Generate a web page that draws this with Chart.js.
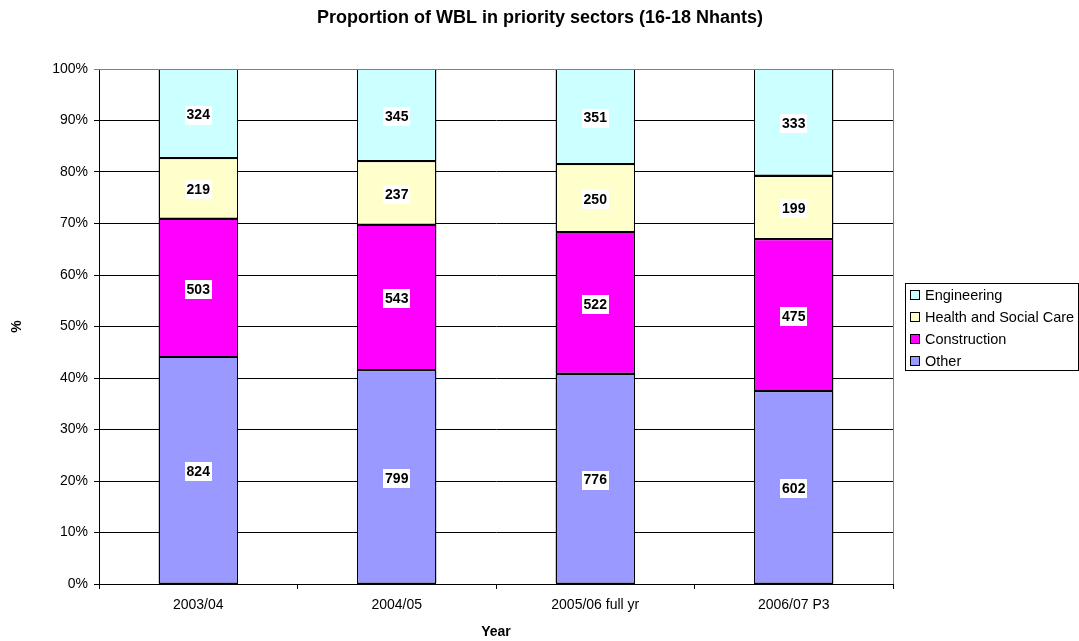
<!DOCTYPE html>
<html>
<head>
<meta charset="utf-8">
<style>
html,body{margin:0;padding:0;background:#fff;}
#wrap{width:1079px;height:641px;position:relative;}
</style>
<script src="https://cdn.jsdelivr.net/npm/chart.js@4/dist/chart.umd.min.js"></script>
</head>
<body>
<div id="wrap"><canvas id="c" width="1079" height="641"></canvas></div>
<script>
const categories = ['2003/04', '2004/05', '2005/06 full yr', '2006/07 P3'];
const other = [824, 799, 776, 602];
const construction = [503, 543, 522, 475];
const healthSocialCare = [219, 237, 250, 199];
const engineering = [324, 345, 351, 333];
const yTickLabels = ['0%','10%','20%','30%','40%','50%','60%','70%','80%','90%','100%'];
const chartTitle = 'Proportion of WBL in priority sectors (16-18 Nhants)';

const FONT = "'Liberation Sans', Arial, sans-serif";
const totals = categories.map((_, i) => other[i] + construction[i] + healthSocialCare[i] + engineering[i]);
const pct = arr => arr.map((v, i) => v / totals[i]);

const seriesDefs = [
  {label: 'Other', raw: other, color: '#9999FF'},
  {label: 'Construction', raw: construction, color: '#FF00FF'},
  {label: 'Health and Social Care', raw: healthSocialCare, color: '#FFFFCC'},
  {label: 'Engineering', raw: engineering, color: '#CCFFFF'}
];

const datasets = seriesDefs.map(s => ({
  label: s.label,
  data: pct(s.raw),
  raw: s.raw,
  backgroundColor: s.color,
  borderColor: '#000000',
  borderWidth: 1,
  borderSkipped: false,
  categoryPercentage: 1.0,
  barPercentage: 0.4
}));

const labelPlugin = {
  id: 'labels',
  afterDatasetsDraw(chart) {
    const ctx = chart.ctx;
    ctx.save();
    // crisp segment outlines
    ctx.strokeStyle = '#000';
    ctx.lineWidth = 1;
    chart.data.datasets.forEach((ds, di) => {
      chart.getDatasetMeta(di).data.forEach(bar => {
        const x0 = Math.round(bar.x - bar.width / 2) + 0.5;
        const x1 = Math.round(bar.x + bar.width / 2) - 0.5;
        const y0 = Math.round(bar.y) + 0.5;
        const y1 = Math.round(bar.base) - 0.5;
        ctx.strokeRect(x0, y0, x1 - x0, y1 - y0);
      });
    });
    ctx.font = "bold 14px " + FONT;
    ctx.textAlign = 'center';
    ctx.textBaseline = 'middle';
    chart.data.datasets.forEach((ds, di) => {
      const meta = chart.getDatasetMeta(di);
      meta.data.forEach((bar, i) => {
        const txt = String(ds.raw[i]);
        const cx = bar.x;
        const cy = (bar.y + bar.base) / 2 + 1;
        const w = ctx.measureText(txt).width + 4;
        ctx.fillStyle = '#ffffff';
        ctx.fillRect(Math.round(cx - w / 2), Math.round(cy - 9), Math.round(w), 19);
        ctx.fillStyle = '#000000';
        ctx.fillText(txt, cx, cy + 1);
      });
    });
    ctx.restore();
  }
};

const framePlugin = {
  id: 'frame',
  afterDraw(chart) {
    const {ctx, chartArea: a} = chart;
    ctx.save();
    ctx.fillStyle = '#000';
    ctx.font = "bold 18px " + FONT;
    ctx.textAlign = 'center';
    ctx.textBaseline = 'middle';
    ctx.fillText(chartTitle, 540, 18);
    ctx.strokeStyle = '#808080';
    ctx.lineWidth = 1;
    ctx.beginPath();
    ctx.moveTo(a.left, a.top + 0.5);
    ctx.lineTo(a.right + 0.5, a.top + 0.5);
    ctx.lineTo(a.right + 0.5, a.bottom);
    ctx.stroke();
    ctx.restore();
    const lx = 905, ly = 283, lw = 173, lh = 87;
    ctx.save();
    ctx.fillStyle = '#ffffff';
    ctx.fillRect(lx, ly, lw, lh);
    ctx.strokeStyle = '#000000';
    ctx.strokeRect(lx + 0.5, ly + 0.5, lw, lh);
    ctx.font = "14.5px " + FONT;
    ctx.textBaseline = 'middle';
    ctx.textAlign = 'left';
    const items = chart.data.datasets.slice().reverse();
    items.forEach((ds, k) => {
      const y = ly + 12 + k * 22;
      ctx.fillStyle = ds.backgroundColor;
      ctx.fillRect(910, y - 5, 10, 10);
      ctx.strokeStyle = '#000000';
      ctx.strokeRect(910.5, y - 4.5, 9, 9);
      ctx.fillStyle = '#000000';
      ctx.fillText(ds.label, 925, y + 1);
    });
    ctx.restore();
  }
};

new Chart(document.getElementById('c'), {
  type: 'bar',
  data: {labels: categories, datasets},
  options: {
    responsive: false,
    animation: false,
    events: [],
    layout: {padding: {left: 0, right: 186, top: 69, bottom: 0}},
    plugins: {
      legend: {display: false},
      tooltip: {enabled: false},
      title: {display: false}
    },
    scales: {
      x: {
        stacked: true,
        afterFit(s) { s.height = 57; },
        grid: {offset: true, drawOnChartArea: false, drawTicks: true, tickLength: 5, color: '#000'},
        border: {color: '#000', width: 1},
        ticks: {color: '#000', font: {family: FONT, size: 14}, padding: 8, maxRotation: 0},
        title: {display: true, text: 'Year', color: '#000', font: {family: FONT, size: 14, weight: 'bold'}, padding: {top: 0, bottom: 0.6}}
      },
      y: {
        stacked: true,
        min: 0,
        max: 1,
        afterFit(s) { s.width = 99; },
        afterBuildTicks(s) { s.ticks = yTickLabels.map((t, i) => ({value: i / 10})); },
        grid: {color: ctx => (ctx.tick && ctx.tick.value === 1) ? '#808080' : '#000', tickLength: 5, drawTicks: true},
        border: {color: '#000', width: 1},
        ticks: {color: '#000', font: {family: FONT, size: 14}, padding: 6, callback: (v, i) => yTickLabels[i]},
        title: {display: true, text: '%', color: '#000', font: {family: FONT, size: 14, weight: 'bold'}, padding: {top: 8.6, bottom: 0}}
      }
    }
  },
  plugins: [labelPlugin, framePlugin]
});
</script>
</body>
</html>
